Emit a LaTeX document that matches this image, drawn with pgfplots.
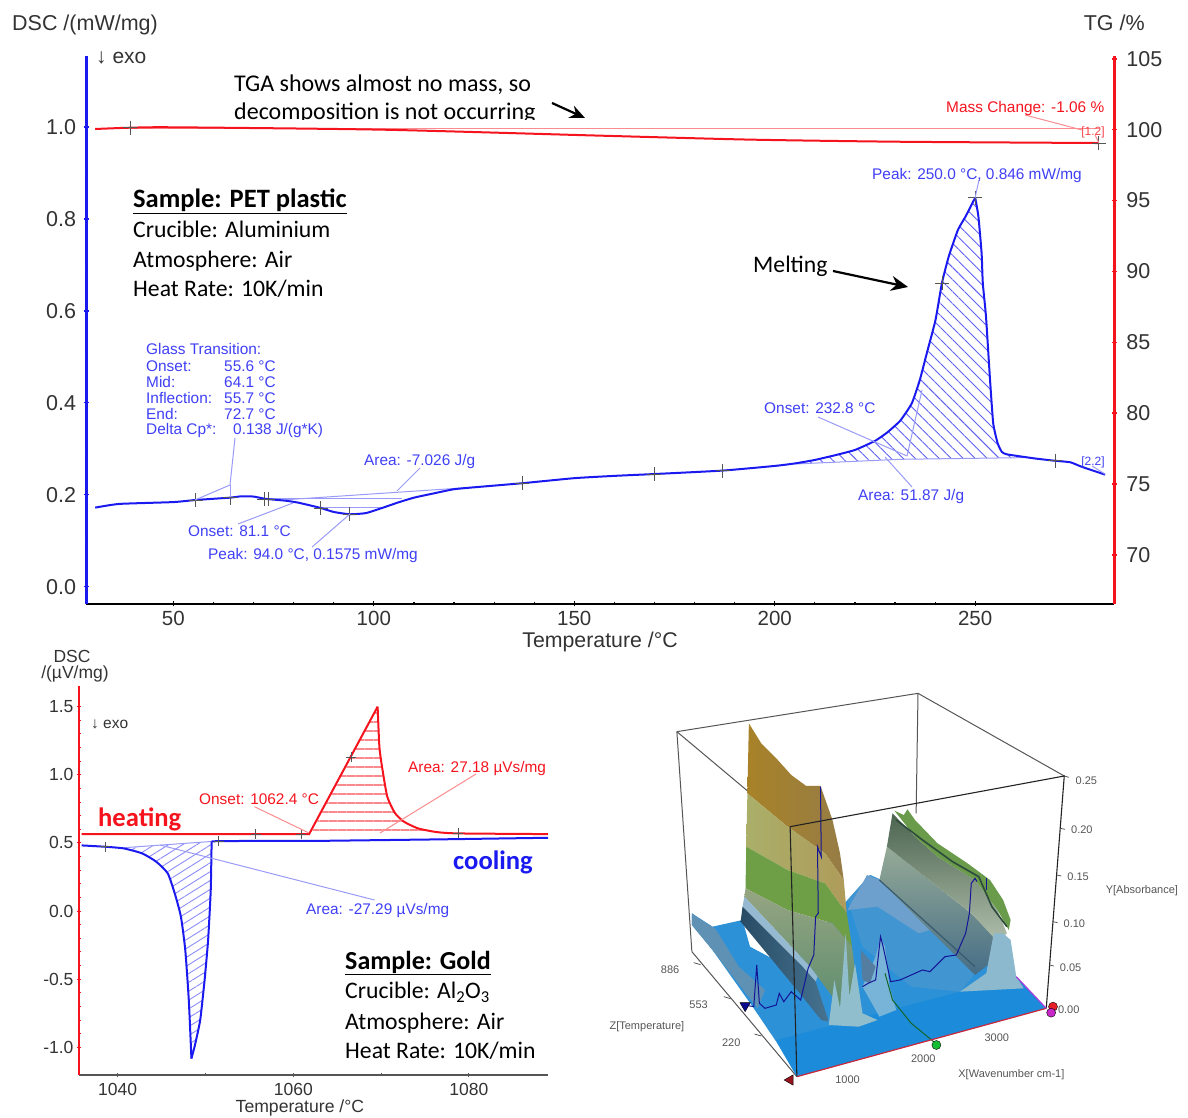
\documentclass[border=0pt]{standalone}
\usepackage{fontspec}
\usepackage{pgfplots}
\pgfplotsset{compat=1.18}
\usetikzlibrary{patterns.meta,arrows.meta}
\setmainfont{Liberation Sans}
\newfontfamily\calib{Carlito}
\definecolor{bl}{HTML}{1A1AF0}
\definecolor{blt}{HTML}{3F3FF5}
\definecolor{bll}{HTML}{9A9AF8}
\definecolor{rd}{HTML}{F5141E}
\definecolor{rdl}{HTML}{FA8C90}
\definecolor{tk}{HTML}{333333}
\definecolor{gr}{HTML}{555555}
\newcommand\fs[1]{\fontsize{#1}{#1}\selectfont}
\pgfplotsset{
  base/.style={scale only axis, clip=false, axis on top=false,
    tick align=outside, major tick length=5pt, minor tick length=3pt,
    tick label style={/pgf/number format/assume math mode=true,/pgf/number format/1000 sep={},text=tk},
    axis line style={-}},
  cross/.style={only marks, mark=+, mark size=7pt, mark options={draw=gr,line width=.7pt}},
}
\begin{document}
\begin{tikzpicture}[x=1pt,y=1pt]
\useasboundingbox (0,0) rectangle (1188,1118);

%================ PET: DSC
\begin{axis}[base, at={(86pt,514pt)}, anchor=south west, width=1028.3pt, height=548pt,
  xmin=28.2, xmax=284.7, ymin=-0.0376, ymax=1.154,
  axis x line=bottom, axis y line=left,
  x axis line style={black,line width=2pt,-}, y axis line style={bl,line width=3pt,-},
  xtick={50,100,150,200,250}, minor x tick num=4,
  ytick={0,0.2,0.4,0.6,0.8,1.0}, minor y tick num=1,
  xtick style={black,line width=1.2pt}, ytick style={bl,line width=1.5pt},
  x tick label style={font=\fs{20.5}, yshift=-1pt},
  y tick label style={font=\fs{21.5}, /pgf/number format/fixed, /pgf/number format/fixed zerofill, /pgf/number format/precision=1, xshift=-4pt},
  xlabel={Temperature /°C}, ylabel={DSC /(mW/mg)},
  every axis x label/.style={at={(axis description cs:0.4999,-0.0685)},anchor=center,font=\fs{21.3},text=tk},
  every axis y label/.style={at={(axis description cs:-0.072,1.0565)},anchor=west,font=\fs{21.5},text=tk,inner sep=0pt},
]
% hatching
\addplot[draw=none,pattern={Lines[angle=-45,distance=8.5pt,line width=.9pt]},pattern color=bl!70!white] coordinates {
 (205,.2668)(210,.2756)(215,.2858)(220,.2973)(225,.317)(228,.335)(231.3,.361)(234.2,.399)(236.2,.45)(238,.51)(240.1,.58)(241.7,.66)(243.4,.718)(245.7,.776)(247.6,.805)(250,.846)(250.8,.805)(251.6,.725)(251.9,.66)(252.7,.587)(253.7,.45)(254.5,.355)(255.6,.312)(256.6,.2937)(257.8,.288)(262,.2806)(231.3,.277)} --cycle;
% minor area hatch lines and baselines
\addplot[bll,line width=1pt] coordinates {(77,.1885)(127,.2176)};
\addplot[bll,line width=1pt] coordinates {(74,.191)(107,.191)};
\addplot[bll,line width=1pt] coordinates {(86.5,.1725)(102,.1725)};
\addplot[bll,line width=1pt] coordinates {(205,.2668)(231.3,.277)(262,.2806)};
% DSC curve
\addplot[bl,line width=2pt,smooth,tension=0.3] coordinates {
 (30.5,.172)(36.5,.18)(50,.184)(55.6,.1886)(64.1,.1936)(67,.1966)(70,.196)(73,.191)(78,.187)(81,.183)(84,.177)(87,.1705)(90,.1625)(94,.1575)(98,.160)(102,.171)(106,.183)(110,.1936)(115,.203)(120,.212)(127,.2176)(137,.225)(150,.236)(160,.241)(170,.245)(187,.2525)(200,.2626)(205,.268)(210,.2756)(215,.2858)(220,.2973)(225,.317)(228,.335)(231.3,.361)(234.2,.399)(236.2,.45)(238,.51)(240.1,.58)(241.7,.66)(243.4,.718)(245.7,.776)(247.6,.805)(250,.846)};
\addplot[bl,line width=2pt,smooth,tension=0.3] coordinates {
 (250,.846)(250.8,.805)(251.6,.725)(251.9,.66)(252.7,.587)(253.7,.45)(254.5,.355)(255.6,.312)(256.6,.2937)(257.8,.288)(264.5,.2793)(269.7,.274)(273.7,.2706)(276.5,.261)(282.4,.2437)};
\addplot[cross] coordinates {(55.6,.1886)(64.1,.1936)(72.7,.191)(73.7,.191)(86.7,.1705)(94,.1575)(137,.225)(170,.245)(187,.2525)(241.7,.66)(250,.846)(270,.274)};
\end{axis}

%================ PET: TG
\begin{axis}[base, at={(86pt,514pt)}, anchor=south west, width=1028.3pt, height=548pt,
  xmin=28.2, xmax=284.7, ymin=66.54, ymax=105.2,
  axis x line=none, axis y line=right,
  y axis line style={rd,line width=3pt,-},
  ytick={70,75,80,85,90,95,100,105}, minor y tick num=4,
  ytick style={rd,line width=1.5pt},
  y tick label style={font=\fs{21.5}, xshift=6pt},
  ylabel={TG /\%},
  every axis y label/.style={at={(axis description cs:1.0298,1.060)},anchor=east,font=\fs{21.5},text=tk,inner sep=0pt},
]
\addplot[rdl,line width=1.2pt] coordinates {(39.2,100.1)(280.8,100.1)};
\addplot[rd,line width=2pt,smooth,tension=0.4] coordinates {(30.5,100.05)(39.2,100.14)(50,100.17)(102.3,100)(156.4,99.58)(193.8,99.3)(231.2,99.15)(280.8,99.06)};
\addplot[cross] coordinates {(39.2,100.14)(280.8,99.06)};
\end{axis}

%================ Gold DSC
\begin{axis}[base, at={(79pt,43pt)}, anchor=south west, width=469pt, height=389pt,
  xmin=1035.6, xmax=1089, ymin=-1.203, ymax=1.652,
  axis x line=bottom, axis y line=left,
  x axis line style={gr,line width=1.5pt,-}, y axis line style={rd,line width=2pt,-},
  xtick={1040,1060,1080}, minor x tick num=1,
  ytick={-1,-0.5,0,0.5,1,1.5}, minor y tick num=4,
  xtick style={gr,line width=1pt}, ytick style={rd,line width=1pt},
  major tick length=4pt, minor tick length=3pt,
  x tick label style={font=\fs{17.5},yshift=-3pt},
  y tick label style={font=\fs{17.5}, /pgf/number format/fixed, /pgf/number format/fixed zerofill, /pgf/number format/precision=1},
  xlabel={Temperature /°C},
  every axis x label/.style={at={(axis description cs:0.471,-0.0850)},anchor=center,font=\fs{17.6},text=tk},
]
\addplot[draw=none,pattern={Lines[angle=0,distance=9pt,line width=1.3pt]},pattern color=rd!50!white] coordinates {
 (1062,.565)(1069.6,1.5)(1069.8,1.207)(1070.1,1.06)(1070.7,.84)(1071.6,.717)(1072.6,.656)(1074.2,.607)(1076.3,.58)(1078.8,.57)} --cycle;
\addplot[draw=none,pattern={Lines[angle=32,distance=7.5pt,line width=.9pt]},pattern color=bl!50!white] coordinates {
 (1040.7,.46)(1042.8,.423)(1044.4,.362)(1045.7,.277)(1046.5,.13)(1047.2,-.04)(1047.7,-.286)(1048.1,-.653)(1048.4,-1.082)(1048.8,-.984)(1049.4,-.80)(1049.9,-.507)(1050.3,-.213)(1050.6,.154)(1050.7,.511)} --cycle;
\addplot[bll,line width=1pt] coordinates {(1040.7,.465)(1050.7,.511)};
\addplot[rd,line width=2pt] coordinates {(1035.9,.565)(1061.8,.565)(1069.6,1.5)};
\addplot[rd,line width=2pt,smooth,tension=0.35] coordinates {(1069.6,1.5)(1069.8,1.207)(1070.1,1.06)(1070.7,.84)(1071.6,.717)(1072.6,.656)(1074.2,.607)(1076.3,.58)(1078.8,.57)(1089,.565)};
\addplot[bl,line width=2pt,smooth,tension=0.35] coordinates {(1035.9,.482)(1038.6,.472)(1040.7,.46)(1042.8,.423)(1044.4,.362)(1045.7,.277)(1046.5,.13)(1047.2,-.04)(1047.7,-.286)(1048.1,-.653)(1048.4,-1.082)};
\addplot[bl,line width=2pt,smooth,tension=0.3] coordinates {(1048.4,-1.082)(1048.8,-.984)(1049.4,-.80)(1049.9,-.507)(1050.3,-.213)(1050.6,.154)(1050.7,.511)};
\addplot[bl,line width=2pt] coordinates {(1050.7,.511)(1051.5,.514)(1063.9,.516)(1076.3,.526)(1089,.538)};
\addplot[cross,mark size=5pt] coordinates {(1055.7,.565)(1060.9,.565)(1066.6,1.13)(1078.8,.57)(1038.6,.472)(1051.5,.514)};
\end{axis}

%================ canvas in pixels: leader lines and all free text
\begin{axis}[scale only axis, at={(0pt,0pt)}, anchor=south west, width=1188pt, height=1118pt,
  xmin=0, xmax=1188, ymin=0, ymax=1118, y dir=reverse, hide axis, clip=false]
\tikzset{every node/.append style={inner sep=0pt,yshift=-2pt}}
\addplot[bll,line width=1pt] coordinates {(195,500)(230,485)(235,438)};
\addplot[bll,line width=1pt] coordinates {(230,485)(230,497)};
\addplot[bll,line width=1pt] coordinates {(238,524)(293,503)};
\addplot[bll,line width=1pt] coordinates {(420,468)(397,491)};
\addplot[bll,line width=1pt] coordinates {(312,547)(350,514)};
\addplot[bll,line width=1pt] coordinates {(818,417)(907,456)};
\addplot[bll,line width=1pt] coordinates {(907,456)(922,390)};
\addplot[bll,line width=1pt] coordinates {(912,487)(885,457)};
\addplot[bll,line width=1pt] coordinates {(979,180)(975,198)};
\addplot[bll,line width=1pt] coordinates {(1092,466)(1105,474)};
\addplot[rdl,line width=1pt] coordinates {(1025,115)(1082,130)};
\addplot[rdl,line width=1pt] coordinates {(1095,135)(1099,143)};
\addplot[rdl,line width=1pt] coordinates {(254.5,806.7)(309,833)};
\addplot[rdl,line width=1pt] coordinates {(476,774)(380,833)};
\addplot[bll,line width=1pt] coordinates {(374.5,900)(160,845)};

\node[anchor=west,font=\fs{21},text=tk] at (axis cs:96,56) {↓ exo};
\begin{scope}
\clip (axis cs:225,70) rectangle (axis cs:545,120);
\node[anchor=west,font=\calib\fs{24},text=black] at (axis cs:234,83) {TGA shows almost no mass, so};
\node[anchor=west,font=\calib\fs{24},text=black] at (axis cs:234,111) {decomposition is not occurring};
\end{scope}
\draw[black,line width=2.2pt,-{Stealth[length=15pt,width=13pt]}] (axis cs:552,103)--(axis cs:585,118);
\draw[black,line width=2.2pt,-{Stealth[length=17pt,width=15pt]}] (axis cs:833,271)--(axis cs:908,287);
\node[anchor=west,font=\calib\fs{26.5}] at (axis cs:133,199) {\underline{\textbf{Sample: PET plastic}}};
\node[anchor=west,font=\calib\fs{23.7}] at (axis cs:133,227) {Crucible: Aluminium};
\node[anchor=west,font=\calib\fs{23.7}] at (axis cs:133,259) {Atmosphere: Air};
\node[anchor=west,font=\calib\fs{23.7}] at (axis cs:133,287) {Heat Rate: 10K/min};
\node[anchor=west,font=\calib\fs{23.7}] at (axis cs:753,264) {Melting};

\tikzset{bt/.style={anchor=west,font=\fs{15.4},text=blt},rt/.style={anchor=west,font=\fs{15.4},text=rd}}
\node[bt] at (axis cs:146,347) {Glass Transition:};
\node[bt] at (axis cs:146,364) {Onset:};      \node[bt] at (axis cs:224,364) {55.6 °C};
\node[bt] at (axis cs:146,380) {Mid:};        \node[bt] at (axis cs:224,380) {64.1 °C};
\node[bt] at (axis cs:146,396) {Inflection:}; \node[bt] at (axis cs:224,396) {55.7 °C};
\node[bt] at (axis cs:146,412) {End:};        \node[bt] at (axis cs:224,412) {72.7 °C};
\node[bt] at (axis cs:146,429) {Delta Cp*:};  \node[bt] at (axis cs:233,429) {0.138 J/(g*K)};
\node[bt] at (axis cs:364,460) {Area: -7.026 J/g};
\node[bt] at (axis cs:188,529) {Onset: 81.1 °C};
\node[bt] at (axis cs:208,554) {Peak: 94.0 °C, 0.1575 mW/mg};
\node[bt] at (axis cs:764,406) {Onset: 232.8 °C};
\node[bt] at (axis cs:858,495) {Area: 51.87 J/g};
\node[bt] at (axis cs:872,174) {Peak: 250.0 °C, 0.846 mW/mg};
\node[rt] at (axis cs:946,107) {Mass Change: -1.06 \%};
\node[rt,font=\fs{12},text=rd!80!white,anchor=center] at (axis cs:1093,130) {[1.2]};
\node[bt,font=\fs{12},anchor=center] at (axis cs:1093,460) {[2.2]};

% gold panel
\node[anchor=center,font=\fs{17.5},text=tk] at (axis cs:72,654) {DSC};
\node[anchor=center,font=\fs{17.5},text=tk] at (axis cs:75,672) {/(µV/mg)};
\node[anchor=west,font=\fs{15.5},text=tk] at (axis cs:91,722) {↓ exo};
\node[rt] at (axis cs:199,797) {Onset: 1062.4 °C};
\node[rt] at (axis cs:408,767) {Area: 27.18 µVs/mg};
\node[bt] at (axis cs:306,909) {Area: -27.29 µVs/mg};
\node[anchor=west,font=\calib\bfseries\fs{26.6},text=rd] at (axis cs:98,817) {heating};
\node[anchor=west,font=\calib\bfseries\fs{26.6},text=bl] at (axis cs:453,860) {cooling};
\node[anchor=west,font=\calib\fs{26}] at (axis cs:345,961) {\underline{\textbf{Sample: Gold}}};
\node[anchor=west,font=\calib\fs{23.7}] at (axis cs:345,990) {Crucible: Al\textsubscript{2}O\textsubscript{3}};
\node[anchor=west,font=\calib\fs{23.7}] at (axis cs:345,1021) {Atmosphere: Air};
\node[anchor=west,font=\calib\fs{23.7}] at (axis cs:345,1049) {Heat Rate: 10K/min};
\end{axis}

%================ 3D panel, in coordinates of the panel
\begin{axis}[scale only axis, at={(600pt,0pt)}, anchor=south west, width=588pt, height=438pt,
  xmin=0, xmax=1568, ymin=0, ymax=1314, y dir=reverse, hide axis, clip=false]
% back box edges
\addplot[gr,line width=1pt] coordinates {(205,155)(848,40)(1238,288)};
\addplot[gr,line width=1pt] coordinates {(848,40)(843,400)};
\addplot[gr,line width=1pt] coordinates {(205,155)(245,815)};
\addplot[gr,line width=1pt] coordinates {(205,155)(507,440)};
\addplot[gr,line width=1pt] coordinates {(245,815)(525,1190)};
% blue floor
\addplot[draw=none,fill={rgb,255:red,45;green,145;blue,215}] coordinates {(245,700)(300,740)(380,720)(400,800)(500,860)(660,660)(720,585)(790,620)(1100,880)(1190,985)(525,1190)(470,1085)(410,985)(300,810)(245,735)} --cycle;
\addplot[draw=none,fill={rgb,255:red,28;green,140;blue,218}] coordinates {(470,1080)(960,935)(1110,890)(1190,985)(525,1190)} --cycle;
\addplot[draw=none,fill={rgb,255:red,65;green,150;blue,210}] coordinates {(660,660)(720,585)(790,620)(1000,880)(960,935)(830,920)(700,800)} --cycle;
% left small ridge
\addplot[draw=none,fill={rgb,255:red,95;green,145;blue,180}] coordinates {(245,700)(270,720)(300,740)(310,750)(370,860)(440,930)(420,985)(300,810)(245,735)} --cycle;
% large ridge
\addplot[draw=none,left color={rgb,255:red,168;green,130;blue,40},right color={rgb,255:red,150;green,125;blue,70}] coordinates {(397,130)(430,190)(470,235)(510,285)(550,318)(588,318)(620,420)(640,520)(650,600)(600,520)(500,440)(393,340)} --cycle;
\addplot[draw=none,left color={rgb,255:red,170;green,175;blue,105},right color={rgb,255:red,175;green,155;blue,90}] coordinates {(393,340)(500,440)(600,520)(650,600)(658,700)(600,610)(500,570)(390,500)} --cycle;
\addplot[draw=none,fill={rgb,255:red,110;green,158;blue,70}] coordinates {(390,500)(500,570)(600,610)(658,700)(672,800)(620,730)(500,690)(388,625)} --cycle;
\addplot[draw=none,top color={rgb,255:red,150;green,165;blue,130},bottom color={rgb,255:red,90;green,140;blue,110}] coordinates {(388,625)(500,690)(620,730)(672,800)(695,1010)(650,1000)(620,950)(560,860)(385,650)} --cycle;
\addplot[draw=none,fill={rgb,255:red,150;green,185;blue,210}] coordinates {(385,650)(560,860)(580,890)(575,905)(540,860)(380,680)} --cycle;
\addplot[draw=none,left color={rgb,255:red,40;green,75;blue,100},right color={rgb,255:red,70;green,115;blue,145}] coordinates {(380,680)(540,860)(575,905)(610,1025)(590,1020)(540,950)(375,725)} --cycle;
\addplot[draw=none,fill={rgb,255:red,145;green,190;blue,205}] coordinates {(610,1035)(625,900)(640,985)(655,760)(665,950)(680,850)(700,1000)(740,1020)(690,1040)} --cycle;
% small middle peak
\addplot[draw=none,fill={rgb,255:red,120;green,180;blue,215}] coordinates {(700,920)(735,830)(748,775)(760,800)(772,920)(790,990)(745,1010)} --cycle;
\addplot[draw=none,fill={rgb,255:red,85;green,125;blue,160}] coordinates {(695,810)(735,860)(720,910)(700,900)} --cycle;
% second ridge
\addplot[draw=none,fill={rgb,255:red,110;green,160;blue,205}] coordinates {(660,690)(712,585)(745,600)(880,750)(850,760)(740,680)} --cycle;
\addplot[draw=none,top color={rgb,255:red,150;green,170;blue,150},bottom color={rgb,255:red,70;green,110;blue,135}] coordinates {(765,500)(990,700)(1060,780)(1040,850)(1000,885)(745,600)} --cycle;
\addplot[draw=none,top color={rgb,255:red,75;green,100;blue,80},bottom color={rgb,255:red,175;green,190;blue,170}] coordinates {(780,400)(840,470)(900,530)(1000,600)(1060,690)(1085,760)(1060,785)(990,700)(765,500)} --cycle;
\addplot[draw=none,fill={rgb,255:red,105;green,155;blue,75}] coordinates {(785,392)(810,405)(820,388)(840,420)(900,490)(980,550)(1040,600)(1075,660)(1095,720)(1090,750)(1060,690)(1000,600)(900,530)(840,470)} --cycle;
\addplot[draw=none,fill={rgb,255:red,140;green,185;blue,205}] coordinates {(960,935)(1030,880)(1050,760)(1075,760)(1095,780)(1110,890)(1130,925)} --cycle;
\addplot[draw={rgb,255:red,45;green,75;blue,60},line width=1.6pt] coordinates {(790,420)(860,480)(940,545)(1010,590)(1045,680)(1085,740)};
\addplot[draw={rgb,255:red,55;green,90;blue,110},line width=1.2pt] coordinates {(745,600)(1000,860)};
% navy spectrum and green time line
\addplot[draw={rgb,255:red,20;green,20;blue,150},line width=1pt] coordinates {(385,975)(410,980)(418,855)(425,970)(440,985)(470,975)(478,940)(490,965)(510,935)(535,960)(555,865)(570,825)(575,710)(582,700)(580,500)(590,530)(588,320)};
\addplot[draw={rgb,255:red,20;green,20;blue,150},line width=1pt] coordinates {(700,920)(715,910)(735,900)(748,770)(755,800)(775,905)(800,900)(860,870)(880,875)(920,830)(950,825)(975,760)(985,700)(990,610)(1000,595)(1005,605)};
\addplot[draw={rgb,255:red,20;green,20;blue,150},line width=1pt] coordinates {(1030,595)(1030,630)};
\addplot[draw={rgb,255:red,20;green,100;blue,40},line width=1pt] coordinates {(760,880)(780,960)(830,1030)(895,1090)};
% front box edges
\addplot[draw={rgb,255:red,35;green,35;blue,35},line width=1.1pt] coordinates {(507,440)(525,1190)};
\addplot[draw={rgb,255:red,35;green,35;blue,35},line width=1.1pt] coordinates {(507,440)(1238,288)(1190,985)};
\addplot[draw={rgb,255:red,200;green,40;blue,60},line width=1.2pt] coordinates {(525,1190)(1190,985)};
\addplot[draw={rgb,255:red,170;green,60;blue,220},line width=1.2pt] coordinates {(1110,890)(1190,985)};
% axis ticks
\addplot[gr,line width=.8pt] coordinates {(1238,288)(1250,292)}; \addplot[gr,line width=.8pt] coordinates {(1228,445)(1240,448)};
\addplot[gr,line width=.8pt] coordinates {(1218,585)(1230,588)}; \addplot[gr,line width=.8pt] coordinates {(1208,725)(1220,728)};
\addplot[gr,line width=.8pt] coordinates {(1198,855)(1210,858)};
\addplot[gr,line width=.8pt] coordinates {(250,848)(268,854)}; \addplot[gr,line width=.8pt] coordinates {(330,950)(348,956)}; \addplot[gr,line width=.8pt] coordinates {(412,1062)(430,1068)};
% sliders
\addplot[only marks,mark=triangle*,mark size=6pt,mark options={rotate=90,draw=none,fill={rgb,255:red,150;green,20;blue,30}}] coordinates {(507,1200)};
\addplot[only marks,mark=triangle*,mark size=6pt,mark options={rotate=180,draw=none,fill={rgb,255:red,10;green,10;blue,140}}] coordinates {(387,977)};
\addplot[only marks,mark=*,mark size=4.5pt,mark options={draw=none,fill={rgb,255:red,20;green,190;blue,50}}] coordinates {(897,1095)};
\addplot[only marks,mark=*,mark size=4.5pt,mark options={draw=none,fill={rgb,255:red,230;green,30;blue,40}}] coordinates {(1208,980)};
\addplot[only marks,mark=*,mark size=4.5pt,mark options={draw=none,fill={rgb,255:red,200;green,40;blue,200}}] coordinates {(1203,998)};
\tikzset{g3/.style={font=\fs{11},text=gr,anchor=center}}
\node[g3] at (axis cs:1297,303) {0.25};
\node[g3] at (axis cs:1285,450) {0.20};
\node[g3] at (axis cs:1275,590) {0.15};
\node[g3] at (axis cs:1265,730) {0.10};
\node[g3] at (axis cs:1255,862) {0.05};
\node[g3] at (axis cs:1250,990) {0.00};
\node[g3] at (axis cs:1445,632) {Y[Absorbance]};
\node[g3] at (axis cs:187,868) {886};
\node[g3] at (axis cs:263,973) {553};
\node[g3] at (axis cs:350,1088) {220};
\node[g3] at (axis cs:125,1040) {Z[Temperature]};
\node[g3] at (axis cs:660,1200) {1000};
\node[g3] at (axis cs:862,1137) {2000};
\node[g3] at (axis cs:1058,1073) {3000};
\node[g3] at (axis cs:1097,1183) {X[Wavenumber cm-1]};
\end{axis}
\end{tikzpicture}
\end{document}
